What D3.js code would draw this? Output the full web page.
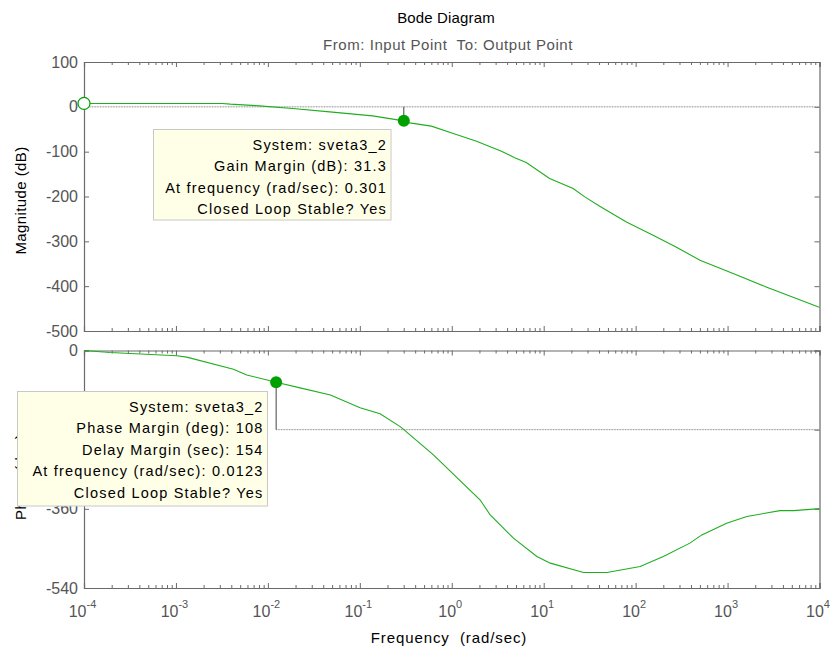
<!DOCTYPE html>
<html>
<head>
<meta charset="utf-8">
<script src="https://cdn.jsdelivr.net/npm/d3@7"></script>
<style>
  html, body { margin: 0; padding: 0; background: #fff; }
  svg { display: block; font-family: "Liberation Sans", Arial, sans-serif; }
  svg text { white-space: pre; }
  .axis path, .axis line { stroke: #6a6a6a; }
  .axis text { fill: #555; }
</style>
</head>
<body>
<svg id="chart" width="832" height="650"></svg>
<script>
// Frequency response samples (rad/sec)
const magFreq = [1e-4, 3.2e-3, 3.9e-3, 8.1e-3, 0.0186, 0.047, 0.138, 0.301, 0.349, 0.60, 1.12, 1.86, 3.47, 4.84, 6.46, 11.6, 20.9, 28.0, 40.7, 79.4, 155, 275, 501, 1150, 2630, 9770, 1e4];
const magDb   = [7.6, 7.6, 6.0, 2.2, -3.6, -11.2, -20.1, -31.3, -35.7, -43.1, -61.6, -76.6, -98.9, -113.8, -124.1, -159.8, -182.1, -200.9, -221.7, -256.7, -286.4, -312.5, -342.2, -371.9, -401.8, -446.4, -447];

const phaseFreq = [1e-4, 1.92e-4, 1.02e-3, 1.31e-3, 4.22e-3, 5.89e-3, 0.0123, 0.0224, 0.0479, 0.1007, 0.166, 0.275, 0.301, 0.632, 2.04, 2.62, 4.69, 8.43, 11.8, 27.1, 48.8, 112, 200, 389, 525, 977, 1620, 3720, 5250, 1e4];
const phaseDeg  = [0, -4.5, -12, -15, -42.5, -55.5, -72, -85, -101, -130, -144, -173, -180, -237.5, -340, -374, -426.7, -468.5, -483.5, -504.8, -504.8, -491, -468.5, -438, -419.3, -392.7, -377.5, -364, -364, -359.5];

// Axis ticks
const freqTicks  = [1e-4, 1e-3, 1e-2, 1e-1, 1e0, 1e1, 1e2, 1e3, 1e4];
const freqExps   = ["-4", "-3", "-2", "-1", "0", "1", "2", "3", "4"];
const magTicks   = [100, 0, -100, -200, -300, -400, -500];
const phaseTicks = [0, -180, -360, -540];

// Stability margins
const gainMargin  = { db: 31.3, freq: 0.301, magAt: -31.3 };
const phaseMargin = { deg: 108, delay: 154, freq: 0.0123, phaseAt: -72 };
const systemName = "sveta3_2";

const gainLines = [
  "System: " + systemName,
  "Gain Margin (dB): " + gainMargin.db,
  "At frequency (rad/sec): " + gainMargin.freq,
  "Closed Loop Stable? Yes"
];
const phaseLines = [
  "System: " + systemName,
  "Phase Margin (deg): " + phaseMargin.deg,
  "Delay Margin (sec): " + phaseMargin.delay,
  "At frequency (rad/sec): " + phaseMargin.freq,
  "Closed Loop Stable? Yes"
];

const svg = d3.select("#chart");
const green = "#1fae1f";
const markerGreen = "#00a000";

const x = d3.scaleLog().domain([1e-4, 1e4]).range([84, 819.5]);
const yMag = d3.scaleLinear().domain([-500, 100]).range([331, 62]);
const yPh  = d3.scaleLinear().domain([-540, 0]).range([588, 350.5]);

// Minor tick positions 2..9 in every decade
const minor = [];
for (let k = -4; k < 4; k++) for (let m = 2; m <= 9; m++) minor.push(m * Math.pow(10, k));

// Titles
svg.append("text").attr("x", 446).attr("y", 23).attr("text-anchor", "middle")
  .attr("font-size", 15).attr("letter-spacing", 0.15).attr("fill", "#000").text("Bode Diagram");
svg.append("text").attr("x", 448).attr("y", 50).attr("text-anchor", "middle")
  .attr("font-size", 15).attr("letter-spacing", 0.55).attr("fill", "#555")
  .text("From: Input Point  To: Output Point");

function drawFrame(y, ticks, showX) {
  const [y0, y1] = y.range(); // bottom, top
  const [x0, x1] = x.range();
  const g = svg.append("g");

  // top edge ticks
  g.append("g").attr("class", "axis").attr("transform", `translate(0,${y1})`)
    .call(d3.axisTop(x).tickValues(freqTicks).tickSize(-5).tickFormat(""));
  g.append("g").attr("class", "axis").attr("transform", `translate(0,${y1})`)
    .call(d3.axisTop(x).tickValues(minor).tickSize(-3).tickFormat(""))
    .call(s => s.select(".domain").remove());
  // bottom edge ticks
  const bx = g.append("g").attr("class", "axis").attr("transform", `translate(0,${y0})`)
    .call(d3.axisBottom(x).tickValues(freqTicks).tickSize(-5)
      .tickFormat(() => showX ? "10" : ""));
  g.append("g").attr("class", "axis").attr("transform", `translate(0,${y0})`)
    .call(d3.axisBottom(x).tickValues(minor).tickSize(-3).tickFormat(""))
    .call(s => s.select(".domain").remove());
  if (showX) {
    bx.selectAll(".tick text")
      .attr("font-size", 16).attr("dy", null).attr("y", 29).attr("x", -2)
      .each(function(d, i) {
        d3.select(this).append("tspan").attr("dy", -9).attr("font-size", 11).text(freqExps[i]);
      });
  }
  // left ticks with labels
  g.append("g").attr("class", "axis").attr("transform", `translate(${x0},0)`)
    .call(d3.axisLeft(y).tickValues(ticks).tickSize(-5).tickPadding(6).tickFormat(d => String(d)))
    .call(s => s.selectAll("text").attr("font-size", 16).attr("fill", "#555"));
  // right ticks
  g.append("g").attr("class", "axis").attr("transform", `translate(${x1},0)`)
    .call(d3.axisRight(y).tickValues(ticks).tickSize(-5).tickFormat(""));
  g.selectAll(".axis path.domain").attr("stroke-width", 1.2);
}

drawFrame(yMag, magTicks, false);
drawFrame(yPh, phaseTicks, true);

// 0 dB reference line
svg.append("line").attr("x1", x(1e-4)).attr("x2", x(1e4))
  .attr("y1", yMag(0)).attr("y2", yMag(0))
  .attr("stroke", "#8a8a8a").attr("stroke-width", 1).attr("stroke-dasharray", "1,0.6");

// -180 deg reference line from the crossover marker
svg.append("line").attr("x1", x(phaseMargin.freq)).attr("x2", x(1e4))
  .attr("y1", yPh(-180)).attr("y2", yPh(-180))
  .attr("stroke", "#8a8a8a").attr("stroke-width", 1).attr("stroke-dasharray", "1,0.6");

// Curves
const magLine = d3.line().x(d => x(d[0])).y(d => yMag(d[1]));
svg.append("path").datum(d3.zip(magFreq, magDb)).attr("d", magLine)
  .attr("fill", "none").attr("stroke", green).attr("stroke-width", 1.1);
const phLine = d3.line().x(d => x(d[0])).y(d => yPh(d[1]));
svg.append("path").datum(d3.zip(phaseFreq, phaseDeg)).attr("d", phLine)
  .attr("fill", "none").attr("stroke", green).attr("stroke-width", 1.1);

// Margin stems and markers
svg.append("line").attr("x1", x(gainMargin.freq)).attr("x2", x(gainMargin.freq))
  .attr("y1", yMag(0)).attr("y2", yMag(gainMargin.magAt)).attr("stroke", "#444");
svg.append("line").attr("x1", x(phaseMargin.freq)).attr("x2", x(phaseMargin.freq))
  .attr("y1", yPh(phaseMargin.phaseAt)).attr("y2", yPh(-180)).attr("stroke", "#444");

svg.append("circle").attr("cx", x(magFreq[0])).attr("cy", yMag(magDb[0])).attr("r", 6)
  .attr("fill", "#fff").attr("stroke", markerGreen).attr("stroke-width", 1.2);
svg.append("circle").attr("cx", x(gainMargin.freq)).attr("cy", yMag(gainMargin.magAt)).attr("r", 6)
  .attr("fill", markerGreen);
svg.append("circle").attr("cx", x(phaseMargin.freq)).attr("cy", yPh(phaseMargin.phaseAt)).attr("r", 6)
  .attr("fill", markerGreen);

// Axis labels
svg.append("text").attr("transform", `translate(26,${(yMag.range()[0] + yMag.range()[1]) / 2 + 4}) rotate(-90)`)
  .attr("text-anchor", "middle").attr("font-size", 15).attr("letter-spacing", 0.4)
  .attr("fill", "#000").text("Magnitude (dB)");
svg.append("text").attr("transform", `translate(26,520) rotate(-90)`)
  .attr("text-anchor", "start").attr("font-size", 15).attr("letter-spacing", 0.4)
  .attr("fill", "#000").text("Phase (deg)");
svg.append("text").attr("x", 449).attr("y", 643).attr("text-anchor", "middle")
  .attr("font-size", 15).attr("letter-spacing", 0.9).attr("fill", "#000").text("Frequency  (rad/sec)");

// Data tips
function dataTip(left, top, right, bottom, lines, firstBase) {
  const g = svg.append("g");
  g.append("rect").attr("x", left).attr("y", top).attr("width", right - left).attr("height", bottom - top)
    .attr("fill", "#ffffe8").attr("stroke", "#c8c8c8").attr("stroke-width", 1);
  g.selectAll("text").data(lines).join("text")
    .attr("x", right - 4).attr("y", (d, i) => firstBase + i * 21.4)
    .attr("text-anchor", "end").attr("font-size", 14.5).attr("letter-spacing", 1.2)
    .attr("fill", "#000").text(d => d);
}
dataTip(153.5, 129.5, 391, 220, gainLines, 150);
dataTip(17.5, 391.5, 267.5, 506, phaseLines, 412);
</script>
</body>
</html>
